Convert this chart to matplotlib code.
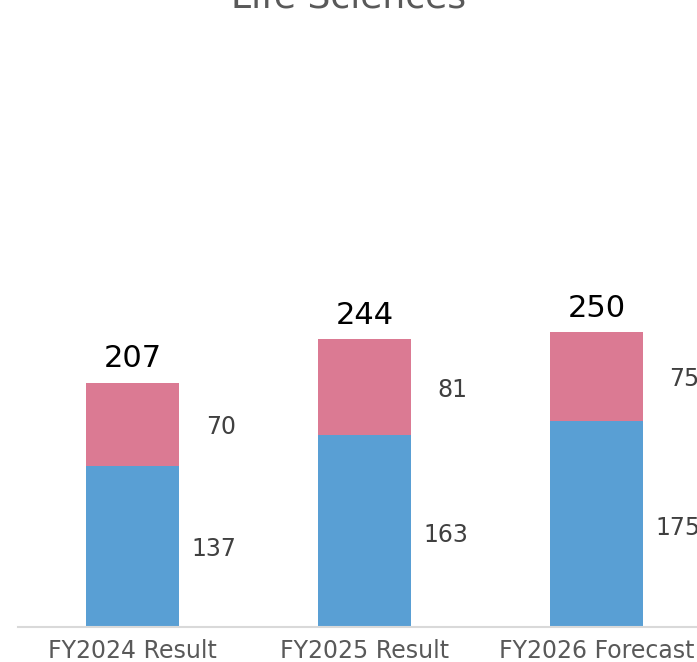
import matplotlib.pyplot as plt

plt.rcParams['font.family'] = ['DejaVu Sans']

categories = ["FY2024 Result", "FY2025 Result", "FY2026 Forecast"]
lower = [137, 163, 175]
upper = [70, 81, 75]
totals = [207, 244, 250]

blue = "#599fd4"
pink = "#db7a93"

fig = plt.figure(figsize=(6.97, 6.62), dpi=100)
ax = fig.add_axes([18 / 697, 35 / 662, 1 - 18 / 697, 627 / 662])

x = list(range(len(categories)))
ax.bar(x, lower, width=0.4, color=blue)
ax.bar(x, upper, width=0.4, bottom=lower, color=pink)

for i in x:
    ax.text(i + 0.35, lower[i] * 0.48, str(lower[i]), ha="center",
            va="center", fontsize=17, color="#404040")
    ax.text(i + 0.38, lower[i] + upper[i] * 0.47, str(upper[i]), ha="center",
            va="center", fontsize=17, color="#404040")
    ax.annotate(str(totals[i]), (i, totals[i]), xytext=(0, 7),
                textcoords="offset points", ha="center", va="bottom",
                fontsize=22, color="black")

ax.set_xlim(-0.494, 2.433)
ax.set_ylim(0, 532)
ax.set_xticks(x)
ax.set_xticklabels(categories, fontsize=17, color="#595959")
ax.tick_params(axis="x", length=0, pad=9)
ax.set_yticks([])
for s in ["top", "right", "left"]:
    ax.spines[s].set_visible(False)
ax.spines["bottom"].set_color("#d9d9d9")
ax.spines["bottom"].set_linewidth(1.5)

fig.text(0.5, 1 - 8 / 662, "Life Sciences", ha="center", va="baseline",
         fontsize=26, color="#595959")

fig.savefig("out.png", dpi=100)
